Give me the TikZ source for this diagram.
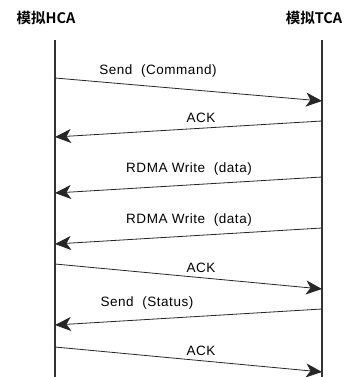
\documentclass[tikz,border=0pt]{standalone}
\usepackage{fontspec}
\setmainfont{Liberation Sans}
\newfontfamily\cjk{Noto Sans CJK SC}[BoldFont={* Bold}]
\newfontfamily\lblfont{Liberation Sans}[LetterSpace=4]
\usetikzlibrary{arrows.meta}
\begin{document}
\begin{tikzpicture}[x=1pt,y=1pt,
  lifeline/.style={line width=1.1pt,draw=black!80},
  msg/.style={line width=0.8pt,draw=black!85,-{Stealth[length=16pt,width=14pt,inset=4.5pt]}},
  lbl/.style={font=\fontsize{13.5}{15}\selectfont\lblfont,inner sep=0pt},
  hdr/.style={font=\fontsize{14.5}{16}\selectfont\bfseries\cjk,inner sep=0pt}]
\useasboundingbox (0,0) rectangle (346,-377);
\node[hdr] (hca) at (46,-18) {模拟HCA};
\node[hdr] (tca) at (314,-18) {模拟TCA};
\coordinate (Ltop) at (55,-40);
\coordinate (Lbot) at (55,-377);
\coordinate (Rtop) at (322,-40);
\coordinate (Rbot) at (322,-377);
\draw[lifeline] (Ltop) -- (Lbot);
\draw[lifeline] (Rtop) -- (Rbot);
% message end points
\coordinate (l1) at (55,-78);  \coordinate (r1) at (322,-101);
\coordinate (r2) at (322,-121); \coordinate (l2) at (55,-137);
\coordinate (r3) at (322,-177); \coordinate (l3) at (55,-193);
\coordinate (r4) at (322,-228); \coordinate (l4) at (55,-244);
\coordinate (l5) at (55,-264); \coordinate (r5) at (322,-289);
\coordinate (r6) at (322,-309); \coordinate (l6) at (55,-325);
\coordinate (l7) at (55,-347); \coordinate (r7) at (322,-372);
\draw[msg] (l1) -- (r1);
\draw[msg] (r2) -- (l2);
\draw[msg] (r3) -- (l3);
\draw[msg] (r4) -- (l4);
\draw[msg] (l5) -- (r5);
\draw[msg] (r6) -- (l6);
\draw[msg] (l7) -- (r7);
\node[lbl] (t1) at (158,-71) {Send\ \ (Command)};
\node[lbl] (t2) at (201,-118) {ACK};
\node[lbl] (t3) at (189,-169) {RDMA\ Write\ \ (data)};
\node[lbl] (t4) at (189,-220) {RDMA\ Write\ \ (data)};
\node[lbl] (t5) at (201,-268) {ACK};
\node[lbl] (t6) at (147,-303) {Send\ \ (Status)};
\node[lbl] (t7) at (201,-351) {ACK};
\end{tikzpicture}
\end{document}
